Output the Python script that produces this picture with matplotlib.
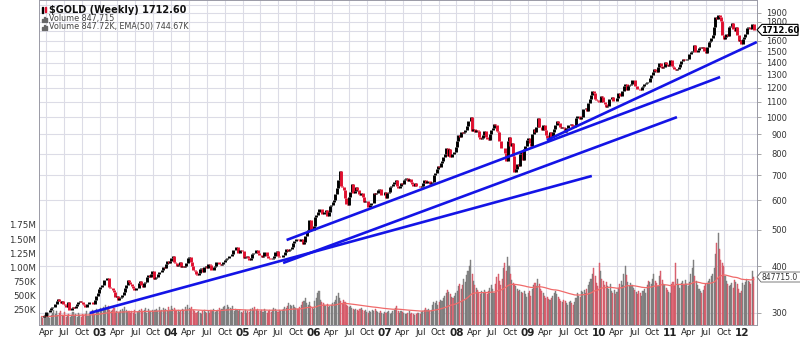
import numpy as np
import pandas as pd
import matplotlib
matplotlib.use("Agg")
import matplotlib.pyplot as plt
import matplotlib.dates as mdates
from matplotlib.transforms import blended_transform_factory
from matplotlib.patches import Polygon, Rectangle

# weekly closes of $GOLD, one list per calendar year
gold_2002 = [293, 292, 294, 301, 302, 302, 306, 309, 311, 312, 317, 322, 326,
             322, 319, 323, 318, 316, 311, 320, 305, 306, 310, 312, 310, 313,
             318, 321, 323, 320, 318, 316, 312, 317, 317, 320, 320, 321, 318,
             325, 333, 340, 347]
gold_2003 = [352, 356, 356, 368, 368, 372, 353, 349, 350, 346, 341, 330, 333,
             325, 328, 331, 336, 341, 350, 357, 368, 364, 358, 355, 350, 346,
             349, 349, 361, 365, 357, 351, 361, 363, 374, 378, 375, 381, 389,
             369, 372, 374, 382, 386, 385, 390, 398, 396, 406, 412, 407, 414]
gold_2004 = [420, 426, 410, 408, 400, 404, 410, 398, 400, 397, 400, 408, 422,
             424, 410, 400, 390, 388, 381, 378, 384, 393, 395, 387, 399, 400,
             395, 405, 402, 390, 392, 399, 400, 411, 411, 405, 403, 406, 410,
             416, 419, 420, 425, 427, 432, 441, 442, 450, 451, 434, 443, 443, 438]
gold_2005 = [421, 424, 427, 422, 415, 420, 430, 435, 434, 443, 435, 428, 428,
             423, 427, 436, 436, 427, 422, 419, 417, 421, 427, 437, 439, 426,
             423, 423, 424, 429, 436, 446, 440, 441, 446, 449, 462, 468, 473,
             472, 470, 467, 474, 460, 464, 482, 493, 500, 530, 501, 500, 513]
gold_2006 = [540, 549, 558, 568, 569, 553, 550, 558, 567, 545, 557, 580, 583,
             595, 600, 625, 647, 681, 717, 655, 653, 640, 610, 585, 582, 613,
             630, 663, 628, 634, 653, 639, 625, 620, 628, 612, 594, 597, 599,
             575, 582, 590, 592, 627, 623, 626, 641, 645, 619, 620, 621, 632]
gold_2007 = [609, 626, 630, 650, 656, 664, 670, 682, 654, 646, 654, 666, 662,
             678, 685, 687, 675, 683, 672, 663, 656, 668, 655, 654, 654, 650,
             656, 667, 679, 668, 676, 676, 664, 669, 672, 700, 711, 728, 743,
             738, 754, 765, 784, 800, 830, 787, 821, 784, 800, 798, 810, 834]
gold_2008 = [863, 898, 885, 911, 908, 914, 922, 945, 975, 975, 1001, 920, 932,
             912, 925, 917, 887, 873, 883, 897, 921, 888, 877, 872, 904, 927,
             935, 959, 954, 920, 913, 863, 830, 828, 830, 803, 763, 866, 884,
             840, 856, 790, 714, 729, 750, 739, 800, 814, 771, 823, 839, 868]
gold_2009 = [878, 854, 839, 903, 928, 914, 943, 994, 942, 941, 927, 956, 924,
             899, 882, 870, 911, 885, 913, 929, 956, 978, 963, 940, 935, 941,
             936, 911, 937, 954, 954, 957, 947, 942, 955, 996, 1006, 1010, 991,
             1004, 1051, 1055, 1058, 1040, 1093, 1118, 1145, 1174, 1162, 1118,
             1109, 1104]
gold_2010 = [1097, 1138, 1131, 1098, 1083, 1064, 1075, 1118, 1118, 1133, 1103,
             1107, 1104, 1124, 1161, 1137, 1142, 1179, 1210, 1228, 1181, 1212,
             1219, 1229, 1256, 1256, 1209, 1211, 1190, 1189, 1181, 1204, 1214,
             1227, 1235, 1246, 1245, 1275, 1297, 1318, 1345, 1326, 1325, 1359,
             1393, 1367, 1353, 1364, 1406, 1385, 1375, 1380, 1420]
gold_2011 = [1369, 1361, 1343, 1339, 1350, 1361, 1388, 1410, 1430, 1419, 1426,
             1428, 1429, 1475, 1493, 1504, 1556, 1492, 1492, 1511, 1536, 1542,
             1528, 1539, 1502, 1484, 1543, 1594, 1602, 1627, 1663, 1746, 1852,
             1829, 1878, 1856, 1813, 1658, 1621, 1635, 1668, 1653, 1743, 1752,
             1788, 1724, 1697, 1746, 1662, 1598, 1606, 1566]
gold_2012 = [1617, 1640, 1665, 1730, 1739, 1726, 1725, 1775, 1712.60]

# weekly volume in thousands
vol_2002 = [150, 120, 180, 140, 160, 210, 130, 170, 220, 260, 190, 240, 180, 210,
            250, 170, 160, 230, 140, 180, 200, 150, 170, 230, 160, 190, 140, 210,
            180, 150, 200, 170, 190, 240, 160, 220, 180, 260, 210, 190, 280, 230, 250]
vol_2003 = [300, 260, 320, 280, 350, 290, 330, 270, 240, 260, 300, 220, 250, 210,
            230, 260, 280, 240, 310, 270, 230, 250, 210, 240, 220, 260, 200, 230,
            250, 270, 290, 240, 260, 300, 220, 280, 250, 240, 270, 230, 260, 290,
            250, 310, 240, 270, 300, 260, 280, 250, 320, 270]
vol_2004 = [330, 280, 300, 260, 240, 270, 230, 250, 290, 260, 310, 270, 350, 300,
            280, 320, 260, 240, 210, 230, 250, 220, 200, 240, 270, 230, 210, 250,
            220, 260, 240, 280, 230, 250, 270, 300, 260, 280, 310, 340, 290, 360,
            320, 300, 280, 330, 250, 290, 270, 240, 260, 230, 210]
vol_2005 = [240, 260, 220, 250, 230, 280, 300, 260, 310, 270, 290, 250, 240, 260,
            230, 280, 250, 220, 240, 260, 230, 270, 300, 280, 250, 230, 260, 240,
            270, 290, 320, 300, 340, 380, 360, 330, 350, 310, 300, 280, 290, 320,
            360, 400, 430, 470, 380, 350, 400, 330, 300, 280]
vol_2006 = [420, 480, 560, 600, 450, 400, 380, 350, 330, 370, 310, 340, 360, 380,
            400, 450, 520, 560, 480, 420, 380, 450, 400, 360, 340, 310, 330, 300,
            280, 260, 290, 270, 250, 280, 300, 260, 240, 270, 230, 220, 250, 230,
            260, 240, 280, 250, 230, 210, 240, 220, 200, 230]
vol_2007 = [210, 230, 250, 200, 220, 240, 260, 300, 330, 250, 220, 240, 230, 210,
            200, 190, 220, 240, 200, 210, 190, 180, 200, 220, 210, 190, 230, 250,
            270, 300, 260, 280, 240, 260, 350, 400, 380, 420, 360, 400, 450, 420,
            480, 520, 560, 620, 580, 540, 500, 470, 520, 560]
vol_2008 = [600, 680, 720, 640, 700, 820, 760, 880, 950, 1050, 1150, 900, 780, 700,
            650, 620, 580, 540, 600, 560, 620, 580, 540, 600, 650, 700, 640, 560,
            720, 850, 900, 780, 700, 820, 1000, 1100, 950, 1200, 1050, 900, 800,
            750, 700, 680, 640, 600, 620, 580, 560, 600, 540, 500]
vol_2009 = [560, 600, 520, 640, 700, 750, 680, 820, 720, 640, 600, 560, 520, 480,
            500, 460, 440, 480, 520, 560, 600, 540, 500, 460, 420, 400, 440, 420,
            380, 360, 400, 420, 380, 360, 400, 480, 560, 520, 500, 600, 580, 620,
            560, 640, 700, 760, 820, 900, 1000, 860, 740, 680]
vol_2010 = [1100, 950, 820, 780, 700, 760, 680, 640, 720, 600, 560, 620, 540, 580,
            650, 720, 780, 700, 900, 1050, 880, 760, 680, 740, 700, 650, 620, 580,
            540, 600, 560, 520, 600, 640, 560, 700, 780, 760, 720, 820, 900, 780,
            740, 680, 860, 950, 800, 720, 700, 660, 620, 580, 560]
vol_2011 = [720, 760, 680, 1100, 820, 700, 660, 740, 780, 700, 800, 720, 680, 760,
            900, 1000, 1150, 860, 780, 700, 640, 600, 560, 620, 680, 720, 740, 780,
            820, 860, 900, 1000, 1250, 1450, 1620, 1350, 1150, 1100, 1050, 860,
            780, 720, 680, 700, 740, 660, 800, 760, 720, 640, 560, 600]
vol_2012 = [740, 700, 760, 820, 780, 760, 720, 960, 847.715]

# hand-drawn trendlines: (start date, start price, end date, end price)
trend_lines = [
    ("2002-11-10", 300, "2009-11-24", 697),
    ("2005-07-27", 408, "2011-02-03", 1001),
    ("2005-08-14", 470, "2011-09-12", 1281),
    ("2009-04-08", 869, "2012-03-18", 1589),
]

# 1700 is left off: the last-price tag covers it
price_ticks = [300, 400, 500, 600, 700, 800, 900, 1000, 1100, 1200, 1300,
               1400, 1500, 1600, 1800, 1900]
vol_ticks = [250e3, 500e3, 750e3, 1.0e6, 1.25e6, 1.5e6, 1.75e6]
vol_tick_labels = ["250K", "500K", "750K", "1.00M", "1.25M", "1.50M", "1.75M"]

close = np.array(gold_2002 + gold_2003 + gold_2004 + gold_2005 + gold_2006 +
                 gold_2007 + gold_2008 + gold_2009 + gold_2010 + gold_2011 +
                 gold_2012, dtype=float)
volume = np.array(vol_2002 + vol_2003 + vol_2004 + vol_2005 + vol_2006 +
                  vol_2007 + vol_2008 + vol_2009 + vol_2010 + vol_2011 +
                  vol_2012, dtype=float) * 1000
dates = pd.date_range(end="2012-03-02", periods=len(close), freq="W-FRI")
x = mdates.date2num(dates.to_pydatetime())

prev = np.concatenate([[close[0]], close[:-1]])
up = close >= prev
ema = pd.Series(volume).ewm(span=50, adjust=False).mean().values

VOL_TOP = 5.74e6
GRID = "#dcdce6"
RED = "#e0102f"

fig = plt.figure(figsize=(8, 3.39), dpi=100)
ax = fig.add_axes([39 / 800, 14 / 339, 718 / 800, 325 / 339])
ax.set_yscale("log")
ax.set_ylim(278.6, 2058)
ax.set_xlim(mdates.datestr2num("2002-02-23"), mdates.datestr2num("2012-03-19"))
ax.set_axisbelow(True)

# volume overlay on its own linear scale at the bottom
vtrans = blended_transform_factory(ax.transData, ax.transAxes)
vol_colors = np.where(up, "#8a8a8a", "#e27480")
ax.bar(x, volume / VOL_TOP, width=5.5, bottom=0, color=vol_colors,
       edgecolor=np.where(up, "#747474", "#cc4656"), linewidth=0.3,
       transform=vtrans, zorder=1)
ax.plot(x, ema / VOL_TOP, color="#f06a6a", lw=0.9, transform=vtrans, zorder=2)

# price bars: previous close to close
ax.vlines(x, np.minimum(prev, close), np.maximum(prev, close),
          colors=np.where(up, "black", RED), lw=2.1, zorder=3)

for d0, p0, d1, p1 in trend_lines:
    ax.plot([mdates.datestr2num(d0), mdates.datestr2num(d1)], [p0, p1],
            color="#1414e6", lw=1.9, solid_capstyle="butt", zorder=4)

# grid and price scale
ax.yaxis.tick_right()
ax.yaxis.set_minor_locator(matplotlib.ticker.NullLocator())
ax.set_yticks(price_ticks)
ax.set_yticklabels([str(p) for p in price_ticks], fontsize=6.0,
                   color="#333333", ha="right")
ax.tick_params(axis="y", length=3, width=0.6, color="#999999", pad=19)
ax.grid(axis="y", color=GRID, lw=0.8)
for level in (1700, 2000):
    ax.axhline(level, color=GRID, lw=0.8, zorder=0.5)

quarters = pd.date_range("2002-04-01", "2012-01-01", freq="QS")
ax.set_xticks(mdates.date2num(quarters.to_pydatetime()))
labels = [q.strftime("%y") if q.month == 1 else q.strftime("%b") for q in quarters]
ax.set_xticklabels(labels, fontsize=6.3, color="#222222")
for q, t in zip(quarters, ax.get_xticklabels()):
    if q.month == 1:
        t.set_fontweight("bold")
        t.set_fontsize(7.5)
ax.tick_params(axis="x", length=0, pad=2)
ax.grid(axis="x", color=GRID, lw=0.8)

for s in ax.spines.values():
    s.set_color("#9a9aa6")
    s.set_linewidth(0.7)

# volume scale on the left
for v, lab in zip(vol_ticks, vol_tick_labels):
    ax.text(-0.004, v / VOL_TOP, lab, transform=ax.transAxes, ha="right",
            va="center", fontsize=6.3, color="#333333")

# header
fig.text(49 / 800, 1 - 10 / 339, "$GOLD (Weekly) 1712.60", fontsize=7,
         fontweight="bold", va="center", color="#111111")
fig.text(49 / 800, 1 - 19 / 339, "Volume 847,715", fontsize=5.8,
         va="center", color="#444444")
fig.text(49 / 800, 1 - 27 / 339, "Volume 847.72K, EMA(50) 744.67K",
         fontsize=5.8, va="center", color="#444444")
for row in (19, 27):
    for i, h in enumerate((3, 5, 4)):
        fig.patches.append(Rectangle((42 + i * 2, 339 - row - 3), 1.3, h,
                                     transform=None, color="#666666"))
fig.patches.append(Rectangle((42, 339 - 13), 1.3, 6, transform=None, color="black"))
fig.patches.append(Rectangle((45, 339 - 12), 1.3, 5, transform=None, color=RED))

# last value tags on the right edge
fig.canvas.draw()
py = ax.transData.transform((x[-1], close[-1]))[1]
tag = [(757, py), (762, py + 5.5), (798, py + 5.5), (798, py - 5.5), (762, py - 5.5)]
fig.patches.append(Polygon(tag, closed=True, transform=None, facecolor="white",
                           edgecolor="black", lw=0.8, zorder=5))
fig.text(780 / 800, (py - 0.5) / 339, "1712.60", fontsize=6.0, fontweight="bold",
         ha="center", va="center", color="black", zorder=6)

vy = ax.transAxes.transform((0, volume[-1] / VOL_TOP))[1]
vtag = [(757, vy), (761, vy + 5), (805, vy + 5), (805, vy - 5), (761, vy - 5)]
fig.patches.append(Polygon(vtag, closed=True, transform=None, facecolor="white",
                           edgecolor="#666666", lw=0.6, zorder=5))
fig.text(762 / 800, vy / 339, "847715.0", fontsize=5.5, ha="left", va="center",
         color="#333333", zorder=6)

fig.savefig("out.png", dpi=100)
